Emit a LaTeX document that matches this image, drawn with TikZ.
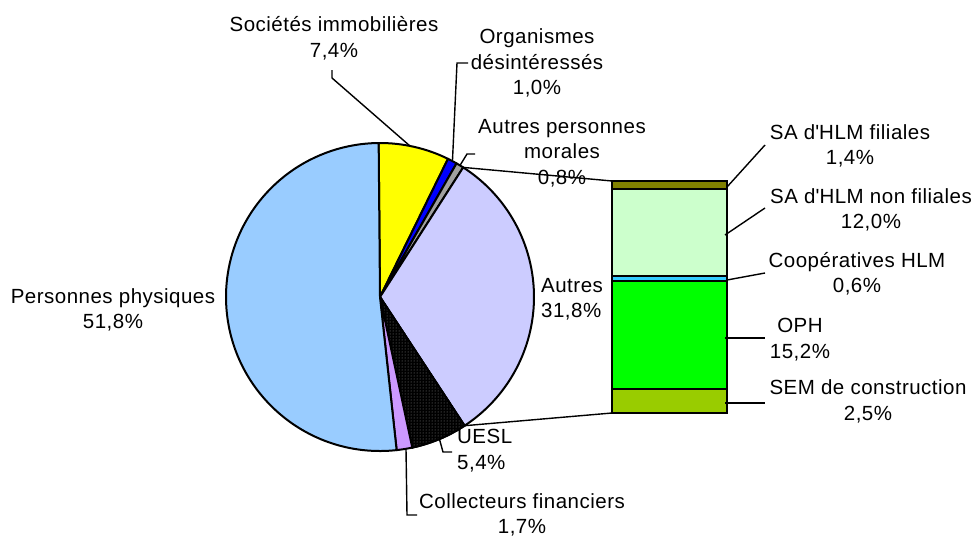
\documentclass[tikz,border=0pt]{standalone}
\usepackage{fontspec}
\setmainfont[LetterSpace=2.4]{Liberation Sans}
\usetikzlibrary{patterns}
\definecolor{cphys}{HTML}{99CCFF}
\definecolor{csoc}{HTML}{FFFF00}
\definecolor{corg}{HTML}{0000FF}
\definecolor{capm}{HTML}{A0A0A0}
\definecolor{caut}{HTML}{CCCCFF}
\definecolor{ccoll}{HTML}{CC99FF}
\definecolor{cfil}{HTML}{808000}
\definecolor{cnonfil}{HTML}{CCFFCC}
\definecolor{ccoop}{HTML}{33CCFF}
\definecolor{coph}{HTML}{00FF00}
\definecolor{csem}{HTML}{99CC00}
\newcommand\myslice[3]{\filldraw[sl,fill=#3] (c) -- ++(-#1:\R) arc[start angle=-#1, end angle=-#2, radius=\R] -- cycle;}
\begin{document}
\begin{tikzpicture}[x=1pt,y=-1pt,
  lbl/.style={align=center, font=\fontsize{20.5}{25.5}\selectfont, inner sep=0pt},
  lead/.style={line width=1.4pt},
  sl/.style={draw=black, line width=2pt, line join=round},
  seg/.style={draw=black, line width=2pt}]
\useasboundingbox[fill=white] (0,0) rectangle (974,538);
\coordinate (c) at (380,297);
\def\R{154}
% pie
\myslice{90.5}{63.8}{csoc}
\myslice{63.8}{60.2}{corg}
\myslice{60.2}{57.3}{capm}
\myslice{57.3}{-56.7}{caut}
\myslice{-56.7}{-77.9}{black}
\fill[pattern=dots, pattern color=black!45] (c) -- ++(56.7:\R) arc[start angle=56.7, end angle=77.9, radius=\R] -- cycle;
\draw[sl] (c) -- ++(56.7:\R) arc[start angle=56.7, end angle=77.9, radius=\R] -- cycle;
\myslice{-77.9}{-83.8}{ccoll}
\myslice{-83.8}{-269.5}{cphys}
% bar
\filldraw[seg, fill=cfil] (612,181) rectangle (727,189.3);
\filldraw[seg, fill=cnonfil] (612,189.3) rectangle (727,276);
\filldraw[seg, fill=ccoop] (612,276) rectangle (727,280.7);
\filldraw[seg, fill=coph] (612,280.7) rectangle (727,389);
\filldraw[seg, fill=csem] (612,389) rectangle (727,413);
% connection pie -> bar
\coordinate (pieTop) at (463.2,167.4);
\coordinate (pieBot) at (464.6,425.7);
\coordinate (barTL) at (612,181);
\coordinate (barBL) at (612,413);
\draw[lead] (pieTop) -- (barTL);
\draw[lead] (pieBot) -- (barBL);
% labels
\node[lbl] (soc) at (334,38.5) {Sociétés immobilières\\7,4\%};
\node[lbl] (org) at (537,63) {Organismes\\désintéressés\\1,0\%};
\node[lbl] (apm) at (562,153) {Autres personnes\\morales\\0,8\%};
\node[lbl, anchor=west, align=left] (aut) at (541,299.5) {Autres\\31,8\%};
\node[lbl] (phys) at (113,310) {Personnes physiques\\51,8\%};
\node[lbl, anchor=west, align=left] (uesl) at (457,450.5) {UESL\\5,4\%};
\node[lbl] (coll) at (522,515) {Collecteurs financiers\\1,7\%};
\node[lbl] (fil) at (850,146) {SA d\textquotesingle HLM filiales\\1,4\%};
\node[lbl] (nonfil) at (871,210) {SA d\textquotesingle HLM non filiales\\12,0\%};
\node[lbl] (coop) at (857,274) {Coopératives HLM\\0,6\%};
\node[lbl] (oph) at (800,339.5) {OPH\\15,2\%};
\node[lbl] (sem) at (868,401.5) {SEM de construction\\2,5\%};
% leader lines
\coordinate (socA) at (332,70);
\coordinate (socB) at (410,146);
\draw[lead] (socA) -- ++(0,8) -- (socB);
\coordinate (orgA) at (468,63);
\coordinate (orgB) at (452.5,160);
\draw[lead] (orgA) -- (457,63) -- (orgB);
\coordinate (apmA) at (475,154);
\coordinate (apmB) at (460,165.4);
\draw[lead] (apmA) -- (467,154) -- (apmB);
\coordinate (ueslA) at (452,452);
\coordinate (ueslB) at (439.4,439);
\draw[lead] (ueslA) -- (443,452) -- (ueslB);
\coordinate (collA) at (417,515);
\coordinate (collB) at (406,449);
\draw[lead] (collA) -- (407,515) -- (collB);
\coordinate (filA) at (727,187);
\coordinate (filB) at (765,145);
\draw[lead] (filA) -- (filB);
\coordinate (nonfilA) at (725,235);
\coordinate (nonfilB) at (765,208);
\draw[lead] (nonfilA) -- (nonfilB);
\coordinate (coopA) at (727,280);
\coordinate (coopB) at (765,273);
\draw[lead] (coopA) -- (coopB);
\coordinate (ophA) at (725,338);
\coordinate (ophB) at (765,338);
\draw[lead] (ophA) -- (ophB);
\coordinate (semA) at (725,403);
\coordinate (semB) at (765,403);
\draw[lead] (semA) -- (semB);
\end{tikzpicture}
\end{document}
